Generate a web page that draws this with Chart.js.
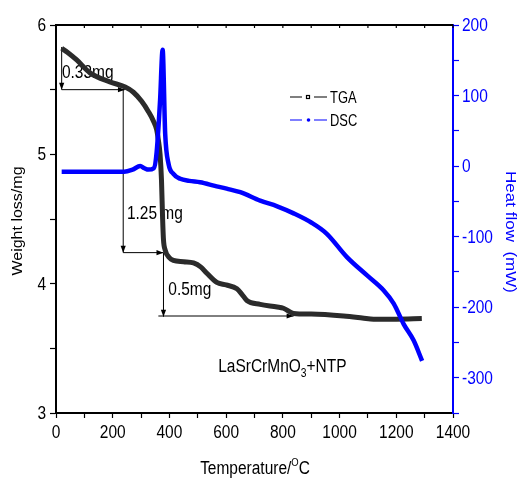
<!DOCTYPE html>
<html>
<head>
<meta charset="utf-8">
<script src="https://cdn.jsdelivr.net/npm/chart.js@4.4.1/dist/chart.umd.min.js"></script>
<style>
  html, body { margin: 0; padding: 0; background: #fff; }
</style>
</head>
<body>
<canvas id="c" width="522" height="478"></canvas>
<script>
// the source figure is squeezed sideways, so horizontal text gets a narrow x scale
const FONT = '"Liberation Sans", Arial, sans-serif';
const SQUEEZE = 0.86;

// TGA curve (temperature in C, weight in mg)
const tgaTemp   = [20, 40, 73, 120, 190, 244, 273, 302, 326, 343, 355, 361, 367, 372, 376, 379, 385, 400, 414, 450, 485, 510, 532, 567, 600, 638, 655, 673, 720, 780, 802, 838, 900, 1014, 1080, 1120, 1200, 1290];
const tgaWeight = [5.82, 5.79, 5.73, 5.63, 5.56, 5.52, 5.48, 5.41, 5.33, 5.26, 5.19, 5.11, 5.00, 4.80, 4.50, 4.34, 4.26, 4.20, 4.18, 4.17, 4.16, 4.13, 4.08, 4.01, 3.99, 3.96, 3.92, 3.87, 3.84, 3.82, 3.81, 3.77, 3.765, 3.75, 3.735, 3.725, 3.725, 3.73];

// DSC curve (temperature in C, heat flow in mW)
const dscTemp = [20, 100, 200, 240, 270, 297, 312, 326, 345, 355, 367, 376, 385, 397, 414, 438, 470, 508, 560, 602, 650, 720, 780, 838, 900, 955, 1026, 1097, 1155, 1191, 1226, 1261, 1291];
const dscHeat = [-8, -8, -8, -8, -5, 0, -3, -5, -3, 20, 93, 165, 46, 3, -11, -18, -21, -23, -28, -32, -37, -49, -57, -67, -80, -96, -129, -155, -176, -195, -224, -247, -276];

// axis ticks (minor ones get no label)
const xTicks  = [0, 100, 200, 300, 400, 500, 600, 700, 800, 900, 1000, 1100, 1200, 1300, 1400];
const yTicks  = [3, 3.5, 4, 4.5, 5, 5.5, 6];
const y2Ticks = [-350, -300, -250, -200, -150, -100, -50, 0, 50, 100, 150, 200];
const xLabels  = [0, 200, 400, 600, 800, 1000, 1200, 1400];
const yLabels  = [3, 4, 5, 6];
const y2Labels = [-300, -200, -100, 0, 100, 200];

// weight-loss step arrows [x1, y1, x2, y2] in (C, mg)
const stepArrows = [
  [20, 5.83, 20, 5.50],
  [20, 5.50, 243, 5.50],
  [237, 5.50, 237, 4.24],
  [237, 4.24, 379, 4.24],
  [379, 4.24, 379, 3.745],
  [361, 3.75, 838, 3.75]
];
const stepLabels = ['0.33mg', '1.25 mg', '0.5mg'];
const stepLabelPos = [[21, 5.63], [250, 4.54], [396, 3.95]];

function pts(xs, ys) {
  return xs.map((x, i) => ({ x: x, y: ys[i] }));
}

// horizontal text, squeezed in x like the original
function txt(ctx, s, x, y, align, size, sq) {
  ctx.save();
  ctx.translate(x, y);
  ctx.scale(sq || SQUEEZE, 1);
  ctx.font = size + 'px ' + FONT;
  ctx.textAlign = align;
  ctx.fillText(s, 0, 0);
  ctx.restore();
}
function txtWidth(ctx, s, size, sq) {
  ctx.save();
  ctx.font = size + 'px ' + FONT;
  const w = ctx.measureText(s).width * (sq || SQUEEZE);
  ctx.restore();
  return w;
}

function arrow(ctx, x1, y1, x2, y2) {
  ctx.beginPath();
  ctx.moveTo(x1, y1);
  ctx.lineTo(x2, y2);
  ctx.stroke();
  const a = Math.atan2(y2 - y1, x2 - x1);
  const L = 7, W = 2.6;
  ctx.beginPath();
  ctx.moveTo(x2, y2);
  ctx.lineTo(x2 - L * Math.cos(a) + W * Math.sin(a), y2 - L * Math.sin(a) - W * Math.cos(a));
  ctx.lineTo(x2 - L * Math.cos(a) - W * Math.sin(a), y2 - L * Math.sin(a) + W * Math.cos(a));
  ctx.closePath();
  ctx.fill();
}

const decorations = {
  id: 'decorations',
  // arrows + step labels sit under the curves
  beforeDatasetsDraw(chart) {
    const { ctx, scales: { x, y } } = chart;
    ctx.save();
    ctx.strokeStyle = '#000';
    ctx.fillStyle = '#000';
    ctx.lineWidth = 1;
    stepArrows.forEach(s => {
      arrow(ctx, x.getPixelForValue(s[0]), y.getPixelForValue(s[1]),
                 x.getPixelForValue(s[2]), y.getPixelForValue(s[3]));
    });
    ctx.textBaseline = 'middle';
    stepLabels.forEach((t, i) => {
      txt(ctx, t, x.getPixelForValue(stepLabelPos[i][0]), y.getPixelForValue(stepLabelPos[i][1]), 'left', 18);
    });
    ctx.restore();
  },
  afterDraw(chart) {
    const { ctx, chartArea: a, scales: { x, y, y2 } } = chart;
    ctx.save();

    // top frame with small inward ticks
    ctx.strokeStyle = '#000';
    ctx.lineWidth = 2;
    ctx.beginPath();
    ctx.moveTo(a.left, a.top);
    ctx.lineTo(a.right, a.top);
    ctx.stroke();
    ctx.lineWidth = 1.2;
    xTicks.forEach(v => {
      const px = x.getPixelForValue(v);
      ctx.beginPath();
      ctx.moveTo(px, a.top);
      ctx.lineTo(px, a.top + 3);
      ctx.stroke();
    });

    // tick labels
    ctx.textBaseline = 'middle';
    ctx.fillStyle = '#000';
    xLabels.forEach(v => txt(ctx, String(v), x.getPixelForValue(v), a.bottom + 20, 'center', 18));
    yLabels.forEach(v => txt(ctx, String(v), a.left - 10, y.getPixelForValue(v) + 1, 'right', 18));
    ctx.fillStyle = '#0000ff';
    y2Labels.forEach(v => txt(ctx, String(v), a.right + 9, y2.getPixelForValue(v) + 1, 'left', 18));

    // sample name with subscript
    ctx.fillStyle = '#000';
    ctx.textBaseline = 'alphabetic';
    let sx = x.getPixelForValue(572);
    const sy = y.getPixelForValue(3.36) + 6;
    txt(ctx, 'LaSrCrMnO', sx, sy, 'left', 18);
    sx += txtWidth(ctx, 'LaSrCrMnO', 18);
    txt(ctx, '3', sx, sy + 5, 'left', 12);
    sx += txtWidth(ctx, '3', 12);
    txt(ctx, '+NTP', sx, sy, 'left', 18);

    // legend
    const lx = a.left + 234, ly1 = 97, ly2 = 120;
    ctx.lineWidth = 1.2;
    ctx.strokeStyle = '#000';
    ctx.beginPath();
    ctx.moveTo(lx, ly1); ctx.lineTo(lx + 12, ly1);
    ctx.moveTo(lx + 24, ly1); ctx.lineTo(lx + 37, ly1);
    ctx.stroke();
    ctx.strokeRect(lx + 16.5, ly1 - 1.5, 3, 3);
    ctx.strokeStyle = '#0000ff';
    ctx.fillStyle = '#0000ff';
    ctx.beginPath();
    ctx.moveTo(lx, ly2); ctx.lineTo(lx + 12, ly2);
    ctx.moveTo(lx + 24, ly2); ctx.lineTo(lx + 37, ly2);
    ctx.stroke();
    ctx.beginPath();
    ctx.arc(lx + 18.5, ly2, 1.8, 0, Math.PI * 2);
    ctx.fill();
    ctx.fillStyle = '#000';
    ctx.textBaseline = 'middle';
    txt(ctx, 'TGA', lx + 40, ly1 + 1, 'left', 17, 0.76);
    txt(ctx, 'DSC', lx + 40, ly2 + 1, 'left', 17, 0.76);

    // x title with superscript O
    ctx.textBaseline = 'alphabetic';
    const t1 = 'Temperature/';
    const w1 = txtWidth(ctx, t1, 18);
    const w2 = txtWidth(ctx, 'O', 11);
    const w3 = txtWidth(ctx, 'C', 18);
    let tx = 255 - (w1 + w2 + w3) / 2;
    const ty = 474;
    txt(ctx, t1, tx, ty, 'left', 18);
    tx += w1;
    txt(ctx, 'O', tx, ty - 8, 'left', 11);
    tx += w2;
    txt(ctx, 'C', tx, ty, 'left', 18);

    // left title
    ctx.textAlign = 'center';
    ctx.textBaseline = 'middle';
    ctx.font = '16px ' + FONT;
    ctx.save();
    ctx.translate(18, 221);
    ctx.rotate(-Math.PI / 2);
    ctx.scale(1, 0.9);
    ctx.fillText('Weight loss/mg', 0, 0);
    ctx.restore();

    // right title
    ctx.fillStyle = '#0000ff';
    ctx.font = '17px ' + FONT;
    ctx.save();
    ctx.translate(510, 232);
    ctx.rotate(Math.PI / 2);
    ctx.scale(1, 0.9);
    ctx.fillText('Heat flow  (mW)', 0, 0);
    ctx.restore();

    ctx.restore();
  }
};

new Chart(document.getElementById('c'), {
  type: 'line',
  data: {
    datasets: [
      {
        label: 'TGA',
        data: pts(tgaTemp, tgaWeight),
        yAxisID: 'y',
        borderColor: '#2b2b2b',
        borderWidth: 5,
        pointRadius: 0,
        cubicInterpolationMode: 'monotone',
        order: 2
      },
      {
        label: 'DSC',
        data: pts(dscTemp, dscHeat),
        yAxisID: 'y2',
        borderColor: '#0000ff',
        borderWidth: 4.5,
        pointRadius: 0,
        cubicInterpolationMode: 'monotone',
        order: 1
      }
    ]
  },
  options: {
    responsive: false,
    animation: false,
    layout: { padding: { top: 25, left: 0, right: 0, bottom: 0 } },
    plugins: {
      legend: { display: false },
      tooltip: { enabled: false }
    },
    scales: {
      x: {
        type: 'linear',
        min: 0,
        max: 1400,
        afterBuildTicks: s => { s.ticks = xTicks.map(v => ({ value: v })); },
        afterFit: s => { s.height = 65; },
        ticks: { display: false },
        grid: { drawOnChartArea: false, tickLength: 5, tickColor: '#000', tickWidth: 1.2 },
        border: { color: '#000', width: 2 }
      },
      y: {
        position: 'left',
        min: 3,
        max: 6,
        afterBuildTicks: s => { s.ticks = yTicks.map(v => ({ value: v })); },
        afterFit: s => { s.width = 56; },
        ticks: { display: false },
        grid: { drawOnChartArea: false, tickLength: 6, tickColor: '#000', tickWidth: 1.2 },
        border: { color: '#000', width: 2 }
      },
      y2: {
        position: 'right',
        min: -350,
        max: 200,
        afterBuildTicks: s => { s.ticks = y2Ticks.map(v => ({ value: v })); },
        afterFit: s => { s.width = 69; },
        ticks: { display: false },
        grid: { drawOnChartArea: false, tickLength: 6, tickColor: '#0000ff', tickWidth: 1.2 },
        border: { color: '#0000ff', width: 2 }
      }
    }
  },
  plugins: [decorations]
});
</script>
</body>
</html>
